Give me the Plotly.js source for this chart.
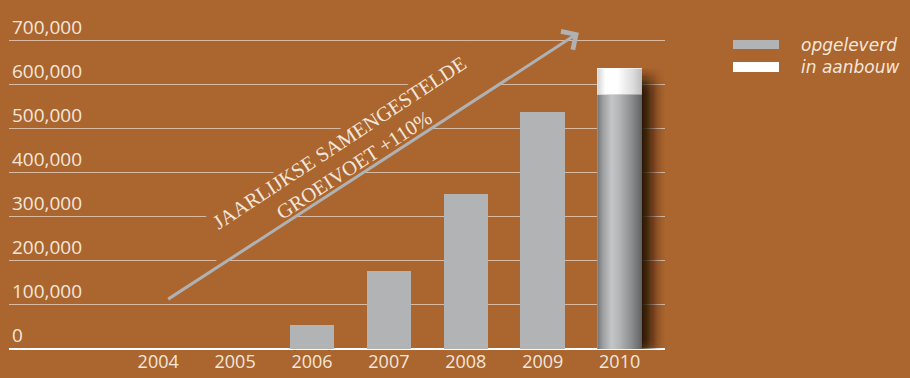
<!DOCTYPE html>
<html>
<head>
<meta charset="utf-8">
<script src="https://cdn.plot.ly/plotly-3.0.1.min.js"></script>
<style>
html,body{margin:0;padding:0;background:#AB652E;}
#chart{width:910px;height:378px;}
</style>
</head>
<body>
<div id="chart"></div>
<script>
// ---- data ----
var years = [2004, 2005, 2006, 2007, 2008, 2009, 2010];
var opgeleverd = [0, 0, 54000, 177000, 351000, 537000, 577000];
var inAanbouw = [0, 0, 0, 0, 0, 0, 60000];
var yTicks = [0, 100000, 200000, 300000, 400000, 500000, 600000, 700000];
var yTickLabels = ['0', '100,000', '200,000', '300,000', '400,000', '500,000', '600,000', '700,000'];
var seriesNames = ['opgeleverd', 'in aanbouw'];
var noteText = 'JAARLIJKSE SAMENGESTELDE<br>GROEIVOET +110%';
// arrow start / end (year, value)
var arrowFrom = [2004.11, 111000];
var arrowTo = [2009.47, 718000];

var BG = '#AB652E';
var GRAY = '#B2B3B5';
var TXT = '#F3E7DC';
var FONT = 'Open Sans, sans-serif';
var barWidth = 0.58;

var traces = [
  {type: 'bar', x: years, y: opgeleverd, name: seriesNames[0], width: barWidth,
   marker: {color: GRAY, line: {width: 0}}, hoverinfo: 'skip'},
  {type: 'bar', x: years, y: inAanbouw, name: seriesNames[1], width: barWidth,
   marker: {color: '#FFFFFF', line: {width: 0}}, hoverinfo: 'skip'}
];

// cylinder-like image for the last bar (built from its values)
var last = years.length - 1;
var totLast = opgeleverd[last] + inAanbouw[last];
var Hb = 281, Wb = 45, padR = 32, padB = 16;
var Hw = Hb * inAanbouw[last] / totLast;
var svg = "<svg xmlns='http://www.w3.org/2000/svg' width='" + (Wb + padR) + "' height='" + (Hb + padB) + "' viewBox='0 0 " + (Wb + padR) + " " + (Hb + padB) + "' preserveAspectRatio='none'>" +
  "<defs>" +
  "<linearGradient id='g' x1='0' x2='1' y1='0' y2='0'>" +
  "<stop offset='0' stop-color='#727374'/><stop offset='0.12' stop-color='#9c9d9f'/><stop offset='0.32' stop-color='#c4c5c7'/><stop offset='0.5' stop-color='#b3b4b6'/><stop offset='0.78' stop-color='#8a8b8d'/><stop offset='1' stop-color='#606163'/>" +
  "</linearGradient>" +
  "<linearGradient id='w' x1='0' x2='1' y1='0' y2='0'>" +
  "<stop offset='0' stop-color='#d2d2d2'/><stop offset='0.18' stop-color='#ffffff'/><stop offset='0.45' stop-color='#ffffff'/><stop offset='0.8' stop-color='#dcdcdc'/><stop offset='1' stop-color='#bdbdbd'/>" +
  "</linearGradient>" +
  "<filter id='f' x='-60%' y='-20%' width='220%' height='140%'><feGaussianBlur stdDeviation='7'/></filter>" +
  "</defs>" +
  "<rect x='8' y='10' width='" + (Wb + 2) + "' height='" + (Hb - 6) + "' fill='#1e0d02' opacity='0.95' filter='url(#f)'/>" +
  "<rect x='0' y='0' width='" + Wb + "' height='" + Hw + "' fill='url(#w)'/>" +
  "<rect x='0' y='" + Hw + "' width='" + Wb + "' height='" + (Hb - Hw) + "' fill='url(#g)'/>" +
  "</svg>";
var imgSrc = 'data:image/svg+xml;charset=utf-8,' + encodeURIComponent(svg);

// paper-y helper for legend placement (plot area top at 12px, height 337px)
function py(p) { return (349 - p) / 337; }
function px(p) { return (p - 9) / 656; }

var layout = {
  width: 910, height: 378,
  margin: {l: 9, r: 245, t: 12, b: 29},
  paper_bgcolor: BG, plot_bgcolor: BG,
  showlegend: false,
  barmode: 'stack',
  font: {family: FONT, color: TXT, size: 18},
  xaxis: {
    type: 'linear', range: [2002.06, 2010.59],
    tickvals: years, ticktext: years.map(String),
    showgrid: false, zeroline: false, showline: false, ticks: '',
    tickfont: {family: FONT, size: 18, color: TXT},
    fixedrange: true
  },
  yaxis: {
    range: [0, 765000],
    tickvals: yTicks, ticktext: yTickLabels,
    ticklabelposition: 'inside top',
    showgrid: true, gridcolor: 'rgba(255,255,255,0.55)', gridwidth: 1,
    zeroline: true, zerolinecolor: '#FFFFFF', zerolinewidth: 1.5,
    showline: false, ticks: '',
    tickfont: {family: FONT, size: 19, color: TXT},
    fixedrange: true
  },
  images: [{
    source: imgSrc, xref: 'x', yref: 'y',
    x: years[last] - barWidth / 2, y: totLast,
    sizex: barWidth * (Wb + padR) / Wb, sizey: totLast * (Hb + padB) / Hb,
    sizing: 'stretch', xanchor: 'left', yanchor: 'top', layer: 'above'
  }],
  shapes: [
    {type: 'rect', xref: 'paper', yref: 'paper', x0: px(733), x1: px(779), y0: py(49), y1: py(40), fillcolor: GRAY, line: {width: 0}},
    {type: 'rect', xref: 'paper', yref: 'paper', x0: px(733), x1: px(779), y0: py(72), y1: py(62), fillcolor: '#FFFFFF', line: {width: 0}}
  ],
  annotations: [
    {xref: 'paper', yref: 'paper', x: px(799), y: py(56), xanchor: 'left', yanchor: 'middle', showarrow: false, align: 'left',
     text: '<i>' + seriesNames[0] + '<br>' + seriesNames[1] + '</i>',
     font: {family: 'DejaVu Sans, sans-serif', size: 17, color: TXT}},
    {xref: 'x', yref: 'y', x: 2006.45, y: 442000, showarrow: false, textangle: -33.2,
     text: noteText, bgcolor: BG, width: 330, height: 44, borderpad: 2,
     font: {family: 'Liberation Serif, serif', size: 20.5, color: TXT}},
    {xref: 'x', yref: 'y', axref: 'x', ayref: 'y',
     x: arrowTo[0], y: arrowTo[1], ax: arrowFrom[0], ay: arrowFrom[1],
     text: '', showarrow: true, arrowhead: 4, arrowsize: 1.4, arrowwidth: 3, arrowcolor: '#B0B1B3', standoff: 0, startstandoff: 0}
  ]
};

Plotly.newPlot('chart', traces, layout, {displayModeBar: false, staticPlot: true});
</script>
</body>
</html>
